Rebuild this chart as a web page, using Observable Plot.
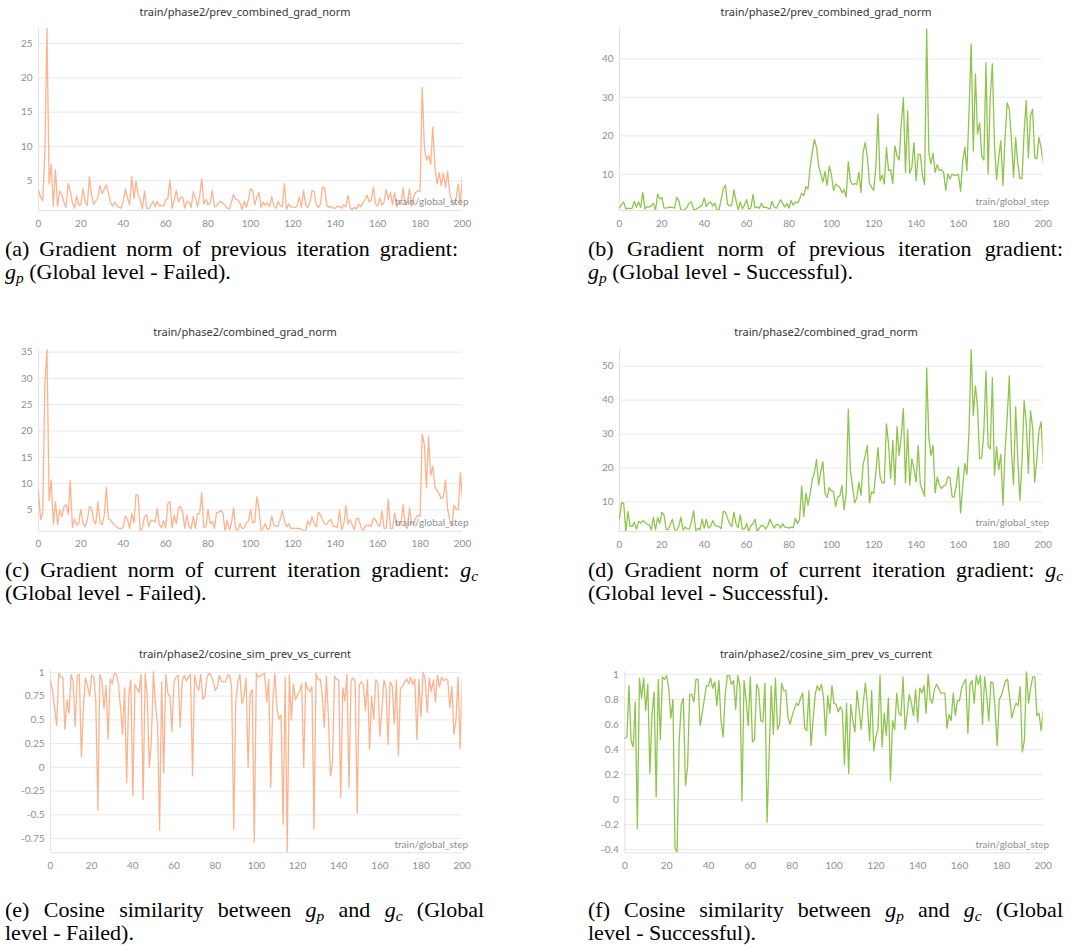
<!DOCTYPE html>
<html><head><meta charset="utf-8">
<script src="https://cdn.jsdelivr.net/npm/d3@7"></script>
<script src="https://cdn.jsdelivr.net/npm/@observablehq/plot@0.6"></script>
<style>
body{margin:0;background:#fff;}
#root{position:relative;width:1070px;height:951px;overflow:hidden;background:#fff;}
.title{position:absolute;width:400px;text-align:center;font-family:"Noto Sans",sans-serif;font-size:11px;line-height:14px;color:#33363b;}
.panel{position:absolute;}
.cap{position:absolute;font-family:"Liberation Serif","Times New Roman",serif;font-size:22px;line-height:23px;color:#000;}
.cap div{white-space:nowrap;}
.cap .l1{white-space:normal;text-align:justify;text-align-last:justify;}
.cap sub{font-size:0.7em;vertical-align:-0.25em;line-height:0;}
</style></head>
<body><div id="root"></div>
<script>
// ---- data (global_step 0..200) ----
const failPrev = [3.6,2.6,2.1,9.0,27.2,4.5,7.4,1.3,6.6,1.3,
 3.5,3.0,1.9,1.1,4.6,3.5,1.8,1.0,2.8,1.4,
 1.5,3.9,1.8,1.4,5.6,3.0,1.6,2.0,2.6,4.3,
 3.1,3.8,4.4,3.2,1.8,1.3,1.9,1.3,1.1,1.0,
 2.1,3.8,2.5,1.5,5.6,2.4,4.9,3.0,2.2,0.9,
 3.5,1.0,0.9,1.4,2.0,1.2,2.0,1.3,1.4,1.3,
 2.2,2.4,5.1,1.0,2.2,3.6,1.9,2.6,2.6,1.0,
 2.0,1.9,1.1,3.4,2.5,1.2,2.8,5.3,1.6,2.3,
 1.5,1.7,3.6,1.2,1.3,1.8,2.0,1.7,1.4,1.0,
 0.9,1.9,3.0,2.3,2.2,1.8,0.8,2.0,1.1,2.2,
 3.8,3.6,1.5,2.6,3.3,1.1,1.9,1.4,1.8,1.2,
 2.7,1.3,1.0,2.0,1.4,1.2,4.6,0.8,1.6,1.2,
 1.2,1.1,1.3,2.6,1.1,3.6,1.5,1.1,1.8,3.6,
 3.4,1.5,1.1,1.6,4.1,3.9,1.4,1.1,1.3,1.0,
 1.0,1.3,1.2,1.0,1.5,1.2,2.9,1.0,0.8,1.1,
 0.9,1.6,1.2,1.8,2.2,2.9,1.9,2.2,4.1,1.6,
 1.3,2.5,1.4,1.9,3.7,2.3,3.3,1.5,3.3,1.2,
 2.0,1.6,4.0,1.5,1.9,3.8,1.3,2.7,3.3,3.5,
 3.5,18.6,10.0,8.0,8.7,7.4,12.8,7.0,4.5,6.2,
 4.3,6.1,4.0,6.4,3.1,2.1,1.5,2.5,4.5,1.6,5.7];
const successPrev = [1.3,2.2,2.8,1.0,1.2,1.1,1.2,3.0,1.5,2.8,
 1.4,5.3,1.0,1.6,1.5,1.8,2.5,0.6,4.9,3.6,
 4.0,1.3,1.2,1.4,1.5,1.4,1.2,4.0,3.2,0.6,
 0.7,0.8,1.6,2.6,2.8,0.8,0.9,1.2,1.6,2.0,
 3.8,1.6,2.6,2.8,1.8,2.5,0.6,0.8,3.5,6.2,
 7.2,2.2,1.8,2.0,6.0,3.2,0.8,2.8,1.0,2.0,
 3.4,0.9,1.3,4.7,1.3,1.5,1.2,2.5,1.4,1.5,
 1.2,1.0,3.0,1.5,1.2,2.3,3.4,2.5,1.5,2.4,
 1.2,3.2,2.0,2.8,2.6,3.5,5.1,4.5,6.8,6.2,
 11.8,15.7,19.1,17.0,12.2,10.1,8.0,10.7,7.1,12.1,
 10.1,5.8,7.5,7.0,6.6,5.2,6.0,4.1,13.3,8.3,
 7.3,7.6,7.4,10.5,5.3,15.7,18.3,14.4,7.6,6.6,
 5.8,11.8,25.6,8.3,9.8,7.5,17.0,11.0,11.2,7.6,
 17.4,14.8,13.7,23.0,29.9,10.5,26.5,10.3,11.8,18.3,
 8.4,15.2,15.2,9.7,7.3,47.8,15.7,12.7,15.5,10.5,
 12.5,11.0,11.2,10.5,5.8,10.1,8.8,10.1,9.7,9.8,
 9.9,5.6,13.5,17.0,10.9,26.5,43.9,16.1,36.0,20.5,
 23.3,14.8,13.7,39.0,10.1,29.9,38.7,17.8,8.6,14.4,
 18.7,7.1,19.6,28.6,26.9,19.2,9.3,19.6,12.7,8.9,
 8.9,21.0,29.2,14.4,25.2,26.9,14.4,14.0,19.6,17.0,13.1];
const failCurr = [8.4,3.2,4.3,29,35.5,6.8,10.7,2.2,6.5,2.2,
 5.0,3.7,5.6,6.0,4.2,10.6,1.7,3.3,2.1,2.6,
 5.1,2.4,1.8,3.0,5.6,5.3,3.0,2.3,6.5,2.6,
 2.2,3.9,9.3,3.2,3.1,2.5,2.1,1.7,1.5,1.4,
 1.8,3.8,3.2,1.5,4.3,2.6,7.9,7.8,1.0,1.6,
 3.7,4.1,1.8,3.0,3.0,2.7,5.3,2.2,1.6,3.0,
 1.5,6.2,6.6,1.6,4.0,2.4,5.3,5.7,4.6,1.5,
 4.0,1.8,1.4,3.8,1.5,4.3,4.3,8.3,1.6,1.8,
 5.1,2.4,2.8,1.5,4.5,4.5,4.9,4.4,1.0,3.0,
 1.2,2.4,5.4,1.3,1.1,2.4,1.5,1.5,2.6,2.8,
 5.1,2.6,2.7,7.5,5.2,1.0,1.5,2.4,1.2,1.5,
 3.8,2.1,1.9,1.9,3.2,4.9,3.0,1.8,2.4,1.5,
 1.5,1.5,1.5,1.5,1.3,1.1,1.0,2.9,2.1,3.7,
 2.4,1.8,4.6,4.0,3.1,2.3,2.3,2.9,3.2,1.9,
 1.8,1.7,4.9,1.2,2.3,5.8,2.3,3.2,2.1,1.2,
 3.4,3.4,1.9,1.0,1.8,2.1,2.1,1.9,3.5,3.1,
 2.3,1.9,4.8,1.5,1.5,7.0,1.5,1.5,4.4,2.3,
 2.3,2.3,6.0,1.8,1.5,5.4,2.4,2.3,3.5,4.0,
 3.8,19.4,17.5,9.2,18.9,11.6,13.3,9.5,8.6,8.1,
 7.1,7.5,10.7,5.2,3.0,1.9,5.9,5.1,5.1,12.1,7.0];
const successCurr = [5.2,9.8,9.6,1.3,7.2,2.8,2.8,4.0,2.0,4.3,
 3.8,4.5,4.0,3.4,3.3,1.8,5.5,1.8,5.4,3.6,
 6.9,6.2,2.0,1.8,3.4,4.9,1.8,1.8,2.8,5.5,
 1.8,2.6,2.0,2.0,4.3,7.4,1.3,2.3,1.8,4.9,
 2.3,4.9,2.3,2.8,4.5,3.2,2.8,2.8,2.1,7.2,
 7.0,5.2,3.6,2.8,7.0,3.6,2.4,6.2,2.0,2.0,
 3.6,1.3,3.0,3.6,4.9,1.3,2.3,3.1,3.0,2.0,
 3.0,4.9,3.6,2.3,3.3,3.3,2.3,3.6,2.6,2.5,
 2.3,2.6,2.4,5.2,3.6,4.9,14.7,5.7,12.6,9.1,
 12.5,16.6,18.6,22.5,15.0,18.9,21.8,12.5,11.3,14.2,
 13.2,13.2,8.6,11.4,11.8,14.9,7.7,12.5,37.3,19.3,
 14.5,9.8,11.1,15.7,12.0,21.1,23.7,26.6,9.8,13.0,
 12.5,18.6,26.0,17.4,15.6,15.6,33.0,27.1,16.9,28.1,
 15.1,32.2,23.7,29.6,37.5,15.6,31.3,15.0,22.7,19.8,
 15.9,26.6,15.1,13.5,11.7,49.5,29.1,23.7,26.6,12.7,
 17.4,15.0,14.0,14.7,15.0,17.4,17.2,11.6,11.4,15.0,
 20.3,6.7,14.5,21.3,18.1,31.0,54.9,35.4,44.2,38.0,
 22.7,23.0,31.0,48.5,26.6,25.6,46.6,17.9,26.3,19.5,
 24.0,9.1,25.1,34.8,47.1,25.1,15.2,38.0,22.7,10.5,
 22.3,39.8,33.2,18.4,36.9,32.0,15.8,22.7,31.0,33.6,21.3];
const failCos = [0.91,0.81,0.63,0.44,0.99,0.95,0.95,0.40,0.71,0.57,
 0.98,0.90,0.43,0.97,0.98,0.11,0.62,0.94,0.86,0.75,
 0.97,0.95,0.70,-0.45,0.98,0.90,0.62,0.86,0.30,0.93,
 0.88,0.99,0.98,0.88,0.63,0.35,0.84,-0.16,0.75,0.92,
 -0.30,0.87,0.83,0.79,0.98,-0.34,0.99,0.75,0.0,0.28,
 1.01,0.65,0.46,-0.66,0.90,-0.06,0.98,0.78,0.75,0.38,
 0.90,0.95,0.97,0.42,0.91,0.97,0.91,0.95,0.98,-0.09,
 0.97,0.86,0.81,0.98,0.72,0.74,0.95,0.99,0.97,0.91,
 0.81,0.84,0.97,0.91,0.90,0.90,0.97,0.97,0.84,-0.65,
 0.69,0.90,0.98,0.67,0.74,0.94,0.0,0.77,0.82,-0.79,
 0.99,0.95,0.96,0.98,0.99,0.69,0.93,-0.21,0.69,0.99,
 0.62,0.51,0.55,-0.60,0.95,-0.90,0.97,0.50,0.88,0.71,
 0.76,0.80,0.88,0.0,0.90,0.82,0.80,0.85,-0.65,0.99,
 0.92,0.93,0.77,0.42,0.96,0.55,-0.09,0.05,0.96,0.93,
 0.92,-0.32,0.84,0.70,0.98,-0.21,0.92,0.94,0.90,-0.48,
 0.87,0.90,0.86,0.60,0.92,0.19,0.75,0.51,0.92,0.89,
 0.33,0.60,0.92,0.84,0.24,0.90,0.86,0.46,0.92,0.12,
 0.83,0.85,0.90,0.93,0.88,0.95,0.87,0.93,0.29,0.93,
 0.53,1.0,0.93,0.58,0.94,0.80,0.92,0.69,0.97,0.85,
 0.95,0.91,0.93,0.92,0.63,0.85,0.35,0.50,0.95,0.20,0.92];
const successCos = [0.49,0.50,0.91,0.47,0.42,0.78,-0.23,0.97,0.81,0.97,
 0.71,0.92,0.21,0.68,0.86,0.02,0.96,0.48,0.98,0.96,
 0.99,0.89,0.65,0.80,-0.39,-0.42,0.47,0.76,0.81,0.11,
 0.26,0.84,0.84,0.78,0.96,0.96,0.59,0.69,0.80,0.91,
 0.91,0.97,0.89,0.94,0.75,0.95,0.63,0.50,0.84,0.99,
 0.99,0.92,0.95,0.72,0.99,0.91,-0.01,0.95,0.79,0.59,
 0.98,0.46,0.48,0.92,0.88,0.63,0.62,0.93,-0.18,0.36,
 0.91,0.52,0.97,0.56,0.60,0.93,0.87,0.87,0.66,0.60,
 0.67,0.72,0.77,0.75,0.81,0.85,0.57,0.55,0.87,0.43,
 0.63,0.84,0.91,0.87,0.92,0.81,0.51,0.83,0.69,0.91,
 0.77,0.76,0.70,0.74,0.71,0.28,0.77,0.21,0.76,0.63,
 0.54,0.87,0.72,0.56,0.77,0.93,0.75,0.47,0.87,0.39,
 0.50,0.56,0.99,0.42,0.69,0.51,0.81,0.15,0.63,0.56,
 0.85,0.69,0.67,0.98,0.56,0.69,0.84,0.77,0.67,0.88,
 0.62,0.89,0.85,0.91,0.69,1.0,0.80,0.77,0.88,0.92,
 0.89,0.85,0.85,0.85,0.57,0.68,0.63,0.85,0.67,0.79,
 0.79,0.89,0.93,0.96,0.53,0.92,0.95,0.77,0.99,0.92,
 0.99,0.60,0.98,0.83,0.63,0.94,0.93,0.72,0.43,0.80,
 0.83,0.89,0.95,0.96,0.81,0.65,0.72,0.77,0.75,0.90,
 0.38,0.47,1.02,0.77,0.89,0.98,0.98,0.67,0.69,0.55,0.71];

const xTicks = [0,20,40,60,80,100,120,140,160,180,200];
const ticksPrevFail = [5,10,15,20,25];
const ticksPrevSucc = [10,20,30,40];
const ticksCurrFail = [5,10,15,20,25,30,35];
const ticksCurrSucc = [10,20,30,40,50];
const ticksCosFail = [-0.75,-0.5,-0.25,0,0.25,0.5,0.75,1];
const ticksCosSucc = [-0.4,-0.2,0,0.2,0.4,0.6,0.8,1];
const titles = ["train/phase2/prev_combined_grad_norm","train/phase2/combined_grad_norm","train/phase2/cosine_sim_prev_vs_current"];
const xLabel = "train/global_step";

const ORANGE = "#fdb38e", GREEN = "#8fc54d";
const root = document.getElementById("root");

function addPanel(vals, c) {
  const data = vals.map((v, i) => ({step: i, v}));
  const svg = Plot.plot({
    width: c.w, height: 215,
    marginLeft: c.ml, marginRight: c.mr, marginTop: c.mt, marginBottom: c.mb,
    style: {fontFamily: "Lato, sans-serif", fontSize: "10px", color: "#8b8f97", background: "transparent", overflow: "visible"},
    x: {domain: [0, 200], ticks: xTicks, tickSize: 0, tickPadding: 9, tickFormat: d => String(d), label: null},
    y: {domain: c.dom, ticks: c.ticks, tickSize: 0, tickPadding: 6, tickFormat: d => String(d), label: null},
    marks: [
      Plot.ruleY(c.ticks, {stroke: "#e9e9eb"}),
      Plot.ruleX([0], {stroke: "#e2e2e4"}),
      Plot.ruleY([c.dom[0]], {stroke: "#e2e2e4"}),
      Plot.lineY(data, {x: "step", y: "v", stroke: c.color, strokeWidth: 1.3, clip: true}),
      Plot.text([xLabel], {text: d => d, frameAnchor: "bottom-right", textAnchor: "end", lineAnchor: "middle", dx: 6, dy: -8.5, fill: "#8b8f97", fontSize: 10, fontFamily: "Lato, sans-serif"})
    ]
  });
  svg.classList.add("panel");
  svg.style.left = c.left + "px";
  svg.style.top = c.top + "px";
  root.appendChild(svg);
  const t = document.createElement("div");
  t.className = "title";
  t.textContent = c.title;
  t.style.left = (c.tc - 200) + "px";
  t.style.top = (c.ty - 7) + "px";
  root.appendChild(t);
}

addPanel(failPrev,    {left: 0,   top: 20,  w: 480, ml: 38, mr: 18,   mt: 8,    mb: 25,   dom: [0.66, 27.2], ticks: ticksPrevFail, color: ORANGE, title: titles[0], tc: 245, ty: 11.5});
addPanel(successPrev, {left: 580, top: 20,  w: 490, ml: 39, mr: 27.3, mt: 8.3,  mb: 25,   dom: [0.6, 47.8],  ticks: ticksPrevSucc, color: GREEN,  title: titles[0], tc: 826, ty: 11.5});
addPanel(failCurr,    {left: 0,   top: 340, w: 480, ml: 38, mr: 18,   mt: 9,    mb: 24.3, dom: [0.95, 35.5], ticks: ticksCurrFail, color: ORANGE, title: titles[1], tc: 245, ty: 332});
addPanel(successCurr, {left: 580, top: 340, w: 490, ml: 39, mr: 27.3, mt: 9,    mb: 24,   dom: [1.3, 54.9],  ticks: ticksCurrSucc, color: GREEN,  title: titles[1], tc: 826, ty: 332});
addPanel(failCos,     {left: 0,   top: 660, w: 480, ml: 50, mr: 18.3, mt: 10,   mb: 22.7, dom: [-0.9, 1.02], ticks: ticksCosFail,  color: ORANGE, title: titles[2], tc: 245, ty: 654});
addPanel(successCos,  {left: 580, top: 660, w: 490, ml: 44.3, mr: 27.3, mt: 10.7, mb: 22.7, dom: [-0.425, 1.025], ticks: ticksCosSucc, color: GREEN, title: titles[2], tc: 826, ty: 654});

// ---- captions ----
const gp = '<i>g</i><sub><i>p</i></sub>', gc = '<i>g</i><sub><i>c</i></sub>';
const captions = [
  {x: 5,   y: 237, w: 453, l1: "(a) Gradient norm of previous iteration gradient:", l2: gp + " (Global level - Failed)."},
  {x: 588, y: 237, w: 475, l1: "(b) Gradient norm of previous iteration gradient:", l2: gp + " (Global level - Successful)."},
  {x: 5,   y: 558, w: 473, l1: "(c) Gradient norm of current iteration gradient: " + gc, l2: "(Global level - Failed)."},
  {x: 588, y: 558, w: 475, l1: "(d) Gradient norm of current iteration gradient: " + gc, l2: "(Global level - Successful)."},
  {x: 5,   y: 898, w: 479, l1: "(e) Cosine similarity between " + gp + " and " + gc + " (Global", l2: "level - Failed)."},
  {x: 588, y: 898, w: 475, l1: "(f) Cosine similarity between " + gp + " and " + gc + " (Global", l2: "level - Successful)."}
];
for (const c of captions) {
  const d = document.createElement("div");
  d.className = "cap";
  d.style.left = c.x + "px";
  d.style.top = c.y + "px";
  d.innerHTML = `<div class="l1" style="width:${c.w}px">${c.l1}</div><div>${c.l2}</div>`;
  root.appendChild(d);
}
</script>
</body></html>
